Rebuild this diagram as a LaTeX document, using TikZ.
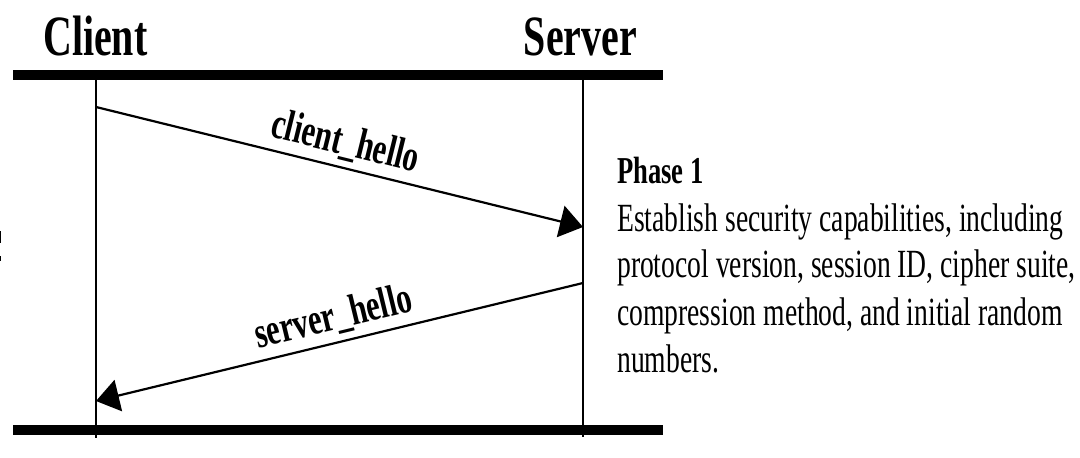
\documentclass[tikz,border=0pt]{standalone}
\usepackage{fontspec}
\setmainfont{Liberation Serif}
\usetikzlibrary{arrows.meta}
\newcommand\narrowtext[1]{\scalebox{0.70}[1]{#1}}
\newcommand\narrowbody[1]{\scalebox{0.69}[1]{#1}}
\begin{document}
\begin{tikzpicture}[x=1pt,y=-1pt,
  bar/.style={line width=10pt},
  lifeline/.style={line width=1.6pt},
  msg/.style={line width=2.2pt,-{Triangle[length=23pt,width=32pt]}},
  msglabel/.style={midway,sloped,anchor=base,yshift=13pt,inner sep=0pt,font=\fontsize{44}{50}\selectfont\bfseries},
  title/.style={inner sep=0pt,font=\fontsize{57}{64}\selectfont\bfseries},
  phase/.style={inner sep=0pt,anchor=base west,font=\fontsize{38}{44}\selectfont\bfseries},
  body/.style={inner sep=0pt,anchor=base west,font=\fontsize{40}{47}\selectfont}]
\useasboundingbox (0,0) rectangle (1080,458);
% titles
\node[title,anchor=base west] (client) at (43,55) {\narrowtext{Client}};
\node[title,anchor=base east] (server) at (637,55) {\narrowtext{Server}};
% bars
\coordinate (tl) at (13,75); \coordinate (tr) at (663,75);
\coordinate (bl) at (13,430); \coordinate (br) at (663,430);
\draw[bar] (tl) -- (tr);
\draw[bar] (bl) -- (br);
% lifelines
\coordinate (cTop) at (96,80); \coordinate (cBot) at (96,438);
\coordinate (sTop) at (583,80); \coordinate (sBot) at (583,437);
\draw[lifeline] (cTop) -- (cBot);
\draw[lifeline] (sTop) -- (sBot);
% messages
\coordinate (c1) at (96,107); \coordinate (s1) at (583,227);
\coordinate (s2) at (583,283); \coordinate (c2) at (96,401);
\draw[msg] (c1) -- (s1) node[msglabel] (lab1) {\narrowtext{client\_hello}};
\draw[msg] (s2) -- (c2) node[msglabel] (lab2) {\narrowtext{server\_hello}};
% phase text
\node[phase] (ph) at (617,183) {\narrowtext{Phase 1}};
\node[body] (l1) at (617,231) {\narrowbody{Establish security capabilities, including}};
\node[body] (l2) at (617,277) {\narrowbody{protocol version, session ID, cipher suite,}};
\node[body] (l3) at (617,325) {\narrowbody{compression method, and initial random}};
\node[body] (l4) at (617,372) {\narrowbody{numbers.}};
% cropped fragment at left edge
\fill (0,231) rectangle (1.2,243);
\fill (0,256) rectangle (1.2,261);
\end{tikzpicture}
\end{document}
